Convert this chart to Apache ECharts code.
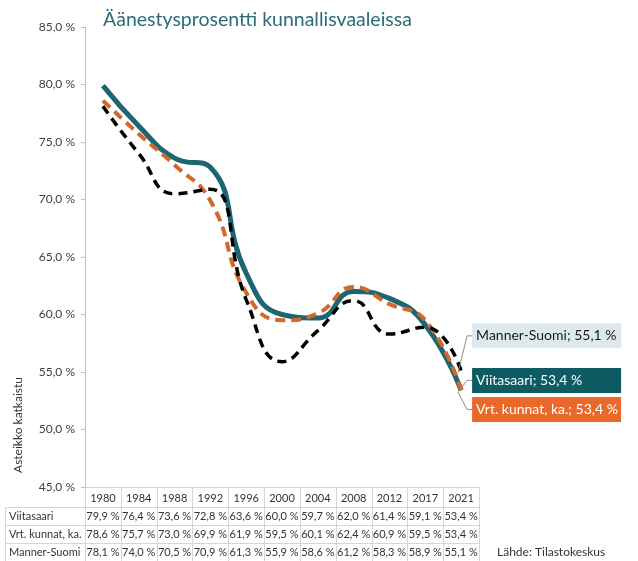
<!DOCTYPE html>
<html><head><meta charset="utf-8">
<script src="https://cdn.jsdelivr.net/npm/echarts@6/dist/echarts.min.js"></script>
<style>html,body{margin:0;padding:0;background:#fff}#c{width:638px;height:561px}</style>
</head><body><div id="c"></div>
<script>
const years = ['1980','1984','1988','1992','1996','2000','2004','2008','2012','2017','2021'];
const viitasaari = [79.9,76.4,73.6,72.8,63.6,60.0,59.7,62.0,61.4,59.1,53.4];
const vrtKunnat = [78.6,75.7,73.0,69.9,61.9,59.5,60.1,62.4,60.9,59.5,53.4];
const mannerSuomi = [78.1,74.0,70.5,70.9,61.3,55.9,58.6,61.2,58.3,58.9,55.1];
const seriesNames = ['Viitasaari','Vrt. kunnat, ka.','Manner-Suomi'];
const yMin = 45, yMax = 85, yStep = 5;
const titleText = 'Äänestysprosentti kunnallisvaaleissa';
const yNote = 'Asteikko katkaistu';
const sourceText = 'Lähde: Tilastokeskus';

const FONT = 'Lato, "Open Sans", sans-serif';
const fmt = v => v.toFixed(1).replace('.', ',') + ' %';
const LBL_DIST = 6, LBL_DX = 4;
const labelShift = [-10, 19, -35];

function withEndLabel(arr, style) {
  return arr.map((v, i) => i === arr.length - 1 ? {
    value: v, symbol: 'circle', symbolSize: 2,
    itemStyle: {color: 'rgba(0,0,0,0)', borderWidth: 0},
    label: Object.assign({show: true}, style)
  } : v);
}
const labelBase = {position: 'right', distance: LBL_DIST, fontFamily: FONT, fontSize: 14,
  padding: [6, 3, 5, 4], width: 142, overflow: 'none',
  formatter: p => p.seriesName + '; ' + fmt(p.value)};

const chart = echarts.init(document.getElementById('c'), null, {renderer: 'canvas'});
chart.setOption({
  animation: false,
  title: {text: titleText, left: 98, top: 5,
    textStyle: {fontFamily: FONT, fontWeight: 'normal', fontSize: 19.5, color: '#2b6c78'}},
  grid: {left: 85, right: 159, top: 27, bottom: 74},
  xAxis: {type: 'category', data: years, boundaryGap: true,
    axisLine: {show: false}, axisTick: {show: false}, axisLabel: {show: false}},
  yAxis: {type: 'value', min: yMin, max: yMax, interval: yStep,
    axisLine: {show: true, lineStyle: {color: '#bfbfbf'}},
    axisTick: {show: true, length: 4, lineStyle: {color: '#bfbfbf'}},
    splitLine: {show: false},
    axisLabel: {formatter: v => fmt(v), fontFamily: FONT, fontSize: 12, color: '#404040', margin: 10}},
  series: [
    {name: seriesNames[0], type: 'line', smooth: 0.5, symbol: 'none', z: 2,
      lineStyle: {color: '#1f6473', width: 5},
      data: withEndLabel(viitasaari, Object.assign({}, labelBase, {backgroundColor: '#0e5c63', color: '#ffffff'})),
      labelLayout: {dx: LBL_DX, dy: labelShift[0]}},
    {name: seriesNames[1], type: 'line', smooth: 0.5, symbol: 'none', z: 3,
      lineStyle: {color: '#d2692c', width: 4, type: [10, 6]},
      data: withEndLabel(vrtKunnat, Object.assign({}, labelBase, {backgroundColor: '#e8692a', color: '#ffffff'})),
      labelLayout: {dx: LBL_DX, dy: labelShift[1]}},
    {name: seriesNames[2], type: 'line', smooth: 0.5, symbol: 'none', z: 4,
      lineStyle: {color: '#000000', width: 3.5, type: [9, 6]},
      data: withEndLabel(mannerSuomi, Object.assign({}, labelBase, {backgroundColor: '#dde8ef', color: '#1a1a1a'})),
      labelLayout: {dx: LBL_DX, dy: labelShift[2]}}
  ]
});

// Data table below the plot, positioned through the chart's own scales
const c0 = chart.convertToPixel({xAxisIndex: 0}, 0);
const c1 = chart.convertToPixel({xAxisIndex: 0}, 1);
const band = c1 - c0;
const yBase = chart.convertToPixel({yAxisIndex: 0}, yMin);
const left = c0 - band / 2;
const right = left + band * years.length;
const rowLabelLeft = 5;
const headH = 20, rowH = 18;
const rows = [viitasaari, vrtKunnat, mannerSuomi];
const gcol = '#d6d6d6';
const els = [];
const hline = (x1, x2, y) => els.push({type: 'line', shape: {x1, y1: y, x2, y2: y}, style: {stroke: gcol, lineWidth: 1}, silent: true});
const vline = (x, y1, y2) => els.push({type: 'line', shape: {x1: x, y1, x2: x, y2}, style: {stroke: gcol, lineWidth: 1}, silent: true});
hline(left, right, yBase + 0.5);
for (let r = 0; r <= rows.length; r++) hline(rowLabelLeft, right, Math.round(yBase + headH + r * rowH) + 0.5);
for (let i = 0; i <= years.length; i++) vline(Math.round(left + i * band) + 0.5, yBase, yBase + headH + rows.length * rowH);
vline(rowLabelLeft + 0.5, yBase + headH, yBase + headH + rows.length * rowH);
const txt = (text, x, y, align) => els.push({type: 'text', x, y, silent: true,
  style: {text, fontFamily: FONT, fontSize: 11, fill: '#333333', align: align || 'center', verticalAlign: 'middle'}});
years.forEach((yv, i) => txt(yv, c0 + i * band, yBase + headH / 2 + 1));
rows.forEach((arr, r) => {
  const yc = yBase + headH + r * rowH + rowH / 2 + 0.5;
  txt(seriesNames[r], rowLabelLeft + 4, yc, 'left');
  arr.forEach((v, i) => txt(fmt(v), c0 + i * band, yc));
});
// leader lines from the 2021 points to their end labels
rows.forEach((arr, r) => {
  const last = arr.length - 1;
  const p = chart.convertToPixel({seriesIndex: r}, [last, arr[last]]);
  const lx = p[0] + LBL_DIST + LBL_DX + 1;
  const ly = p[1] + labelShift[r];
  els.push({type: 'polyline', z: 100, silent: true,
    shape: {points: [[p[0] - 3, p[1] + 2], [lx - 5, ly], [lx, ly]]},
    style: {stroke: '#8c8c8c', lineWidth: 1, fill: null}});
});
els.push({type: 'text', x: 497, y: yBase + headH + 2.5 * rowH, silent: true,
  style: {text: sourceText, fontFamily: FONT, fontSize: 12, fill: '#333333', align: 'left', verticalAlign: 'middle'}});
els.push({type: 'text', x: 18, y: 425, rotation: Math.PI / 2, silent: true,
  style: {text: yNote, fontFamily: FONT, fontSize: 12, fill: '#333333', align: 'center', verticalAlign: 'middle'}});
chart.setOption({graphic: {elements: els}});
</script>
</body></html>
